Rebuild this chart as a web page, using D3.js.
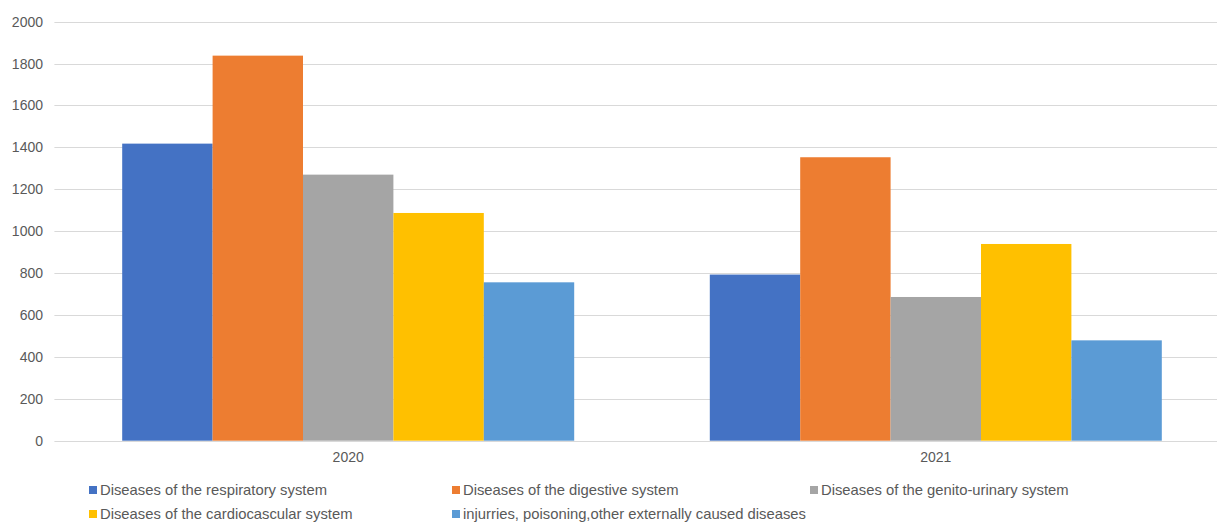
<!DOCTYPE html>
<html>
<head>
<meta charset="utf-8">
<script src="https://cdn.jsdelivr.net/npm/d3@7"></script>
<style>
  html, body { margin: 0; padding: 0; background: #fff; }
  svg { display: block; }
  text { font-family: "Liberation Sans", Arial, sans-serif; fill: #595959; }
</style>
</head>
<body>
<svg id="chart" width="1217" height="522"></svg>
<script>
// Hospital cases by disease group, per year
const years = ["2020", "2021"];
const seriesNames = [
  "Diseases of the respiratory system",
  "Diseases of the digestive system",
  "Diseases of the genito-urinary system",
  "Diseases of the cardiocascular system",
  "injurries, poisoning,other externally caused diseases"
];
const respiratory = [1418, 793];
const digestive = [1838, 1353];
const genitoUrinary = [1270, 686];
const cardiovascular = [1087, 939];
const injuries = [756, 479];
const seriesColors = ["#4472C4", "#ED7D31", "#A5A5A5", "#FFC000", "#5B9BD5"];
const yTicks = [0, 200, 400, 600, 800, 1000, 1200, 1400, 1600, 1800, 2000];

const seriesValues = [respiratory, digestive, genitoUrinary, cardiovascular, injuries];

const svg = d3.select("#chart");
const plot = { left: 54.4, right: 1229.6, top: 21.7, bottom: 440.7 };

const x0 = d3.scaleBand()
  .domain(years)
  .range([plot.left, plot.right])
  .paddingInner(1.5 / 6.5)
  .paddingOuter(0.75 / 6.5);

const x1 = d3.scaleBand()
  .domain(d3.range(seriesNames.length))
  .range([0, x0.bandwidth()]);

const y = d3.scaleLinear().domain([0, 2000]).range([plot.bottom, plot.top]);

// gridlines
svg.append("g")
  .selectAll("line")
  .data(yTicks)
  .join("line")
  .attr("x1", plot.left)
  .attr("x2", plot.right)
  .attr("y1", d => Math.round(y(d)) + 0.5)
  .attr("y2", d => Math.round(y(d)) + 0.5)
  .attr("stroke", "#D9D9D9")
  .attr("stroke-width", 1);

// y axis labels
const yAxis = d3.axisLeft(y).tickValues(yTicks).tickFormat(d3.format("d")).tickSize(0).tickPadding(0);
const yg = svg.append("g")
  .attr("transform", `translate(43,0)`)
  .call(yAxis);
yg.select(".domain").remove();
yg.selectAll("text")
  .style("font-size", "14px")
  .style("font-family", "'Liberation Sans', Arial, sans-serif")
  .attr("fill", "#595959");

// bars
const groups = svg.append("g")
  .selectAll("g")
  .data(years)
  .join("g")
  .attr("transform", d => `translate(${x0(d)},0)`);

groups.selectAll("rect")
  .data((yr, i) => seriesValues.map((vals, s) => ({ s, v: vals[i] })))
  .join("rect")
  .attr("x", d => x1(d.s))
  .attr("width", x1.bandwidth())
  .attr("y", d => y(d.v))
  .attr("height", d => y(0) - y(d.v))
  .attr("fill", d => seriesColors[d.s]);

// x axis labels
const xAxis = d3.axisBottom(x0).tickSize(0).tickPadding(0);
const xg = svg.append("g")
  .attr("transform", `translate(0,${plot.bottom + 11})`)
  .call(xAxis);
xg.select(".domain").remove();
xg.selectAll("text")
  .style("font-size", "14px")
  .style("font-family", "'Liberation Sans', Arial, sans-serif")
  .attr("fill", "#595959");

// legend
const legendPos = [
  [89, 490], [452, 490], [810, 490],
  [89, 514], [452, 514]
];
const legend = svg.append("g")
  .selectAll("g")
  .data(seriesNames)
  .join("g")
  .attr("transform", (d, i) => `translate(${legendPos[i][0]},${legendPos[i][1]})`);
legend.append("rect")
  .attr("x", 0).attr("y", -4)
  .attr("width", 8).attr("height", 8)
  .attr("fill", (d, i) => seriesColors[i]);
legend.append("text")
  .attr("x", 11)
  .attr("dy", "0.35em")
  .style("font-size", "14.8px")
  .text(d => d);
</script>
</body>
</html>
